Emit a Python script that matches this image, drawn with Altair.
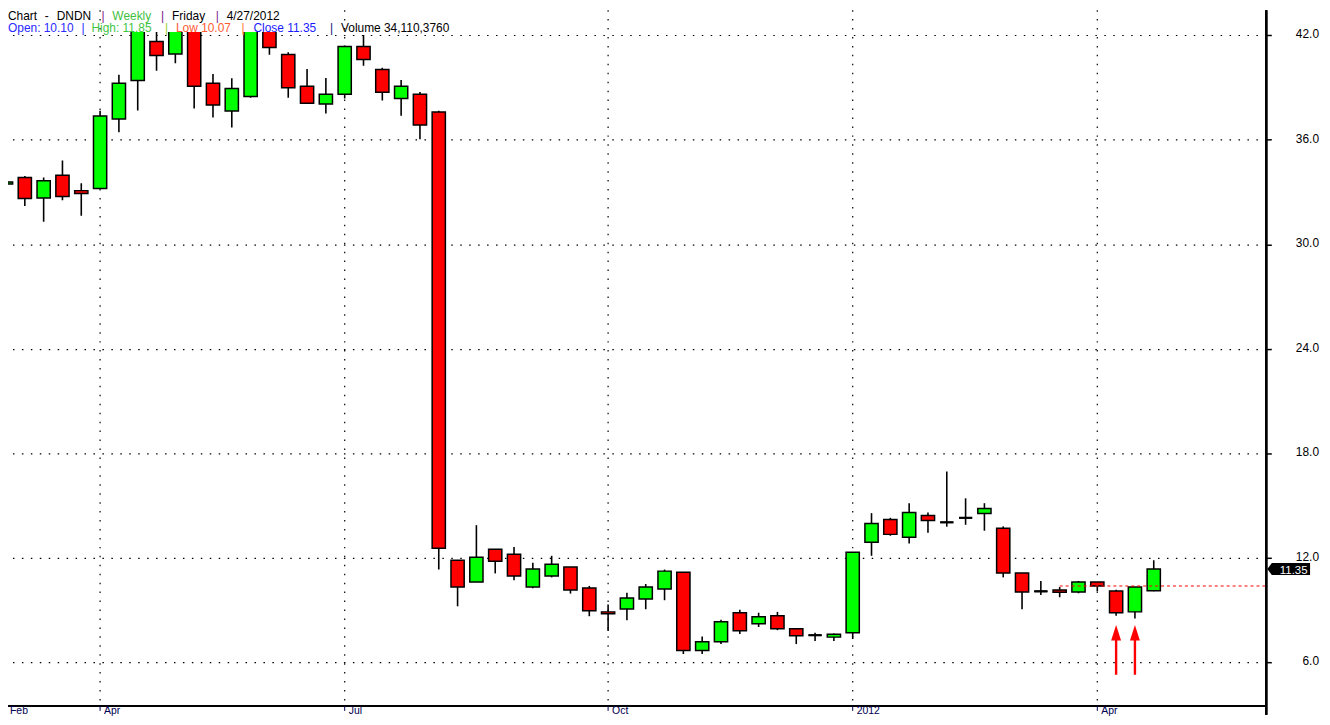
import altair as alt
import pandas as pd

# ---------------- data ----------------
opens = [33.46, 33.84, 32.66, 33.96, 33.08, 33.20, 37.19, 39.41, 41.64, 40.93,
         42.40, 39.24, 37.65, 38.48, 42.80, 40.90, 39.07, 38.05, 38.62, 41.36,
         40.04, 38.37, 38.62, 37.59, 11.86, 10.60, 12.49, 12.20, 10.32, 10.95,
         11.46, 10.26, 8.89, 9.06, 9.63, 10.20, 11.17, 6.67, 7.18, 8.84,
         8.21, 8.67, 7.92, 7.55, 7.44, 7.69, 12.89, 14.20, 13.17, 14.43,
         14.03, 14.29, 14.54, 13.69, 11.12, 10.07, 10.15, 10.03, 10.60, 10.09,
         8.89, 10.10]
highs = [34.00, 33.92, 33.84, 34.81, 33.50, 37.66, 39.74, 43.20, 43.00, 43.10,
         42.90, 39.78, 39.53, 43.30, 43.00, 41.03, 40.06, 39.55, 41.41, 42.02,
         40.13, 39.43, 38.75, 37.66, 11.86, 13.87, 12.49, 12.62, 11.71, 12.11,
         11.46, 10.38, 9.31, 9.99, 10.49, 11.32, 11.17, 7.47, 8.44, 9.01,
         8.84, 8.89, 7.92, 7.69, 7.65, 12.32, 14.56, 14.29, 15.13, 14.60,
         16.95, 15.41, 15.13, 13.80, 11.12, 10.66, 10.32, 10.66, 10.60, 10.16,
         10.32, 11.85]
lows = [31.86, 32.20, 31.29, 32.53, 31.63, 33.20, 36.43, 37.68, 39.96, 40.40,
        37.80, 37.28, 36.71, 38.42, 40.88, 38.42, 38.05, 37.51, 38.37, 40.25,
        38.25, 37.38, 36.03, 11.32, 9.21, 10.60, 11.10, 10.70, 10.24, 10.87,
        9.94, 8.64, 7.79, 8.41, 9.04, 9.56, 6.47, 6.47, 7.04, 7.62,
        8.02, 7.84, 7.04, 7.22, 7.22, 7.33, 12.11, 13.26, 12.81, 13.43,
        13.78, 13.89, 13.55, 10.87, 9.04, 9.86, 9.73, 9.96, 10.07, 8.67,
        8.51, 10.07]
closes = [33.58, 32.63, 33.65, 32.74, 32.91, 37.36, 39.24, 42.60, 40.84, 42.40,
          39.07, 37.99, 38.94, 42.80, 41.30, 38.99, 38.10, 38.62, 41.36, 40.61,
          38.73, 39.07, 36.85, 12.54, 10.32, 12.03, 11.80, 10.95, 11.35, 11.63,
          10.15, 8.95, 8.78, 9.69, 10.32, 11.23, 6.67, 7.18, 8.32, 7.81,
          8.61, 7.92, 7.52, 7.55, 7.60, 12.32, 13.97, 13.34, 14.60, 14.14,
          14.03, 14.29, 14.83, 11.12, 10.03, 10.07, 10.01, 10.60, 10.38, 8.84,
          10.32, 11.35]

tick_index = [0, 5, 18, 32, 45, 58]
tick_labels = ["Feb", "Apr", "Jul", "Oct", "2012", "Apr"]
price_ticks = [6.0, 12.0, 18.0, 24.0, 30.0, 36.0, 42.0]

last_close = 11.35
ref_level = 10.38
ref_start = 56
arrow_index = [59, 60]
arrow_tail = 5.28
arrow_head_base = 7.30
arrow_head_mid = 7.69

header_text = ["Chart", "-", "DNDN", "|", "Weekly", "|", "Friday", "|", "4/27/2012",
               "Open: 10.10", "|", "High: 11.85", "|", "Low 10.07", "|", "Close 11.35", "|",
               "Volume 34,110,3760"]

# ---------------- layout / style ----------------
W, H = 1266, 678
TOP, BOTTOM, RIGHT = 22, 9, 56
header_color = ["#000000", "#000000", "#000000", "#7a1a8a", "#3fbf3f", "#7a1a8a", "#000000",
                "#7a1a8a", "#000000",
                "#2a2aff", "#2a2aff", "#3fc43f", "#9acd32", "#ff5a33", "#ff7a33", "#1a1aff",
                "#1a1a80", "#000000"]
header_px = [8, 45, 57, 102, 113, 162, 173, 217, 228,
             8, 82, 92, 166, 177, 243, 255, 332, 343]
header_line = [0, 0, 0, 0, 0, 0, 0, 0, 0, 1, 1, 1, 1, 1, 1, 1, 1, 1]
line_base = [17.5, 30]

n = len(opens)
half = 0.3513
candles = pd.DataFrame({
    "i": list(range(n)), "open": opens, "high": highs, "low": lows, "close": closes,
})
candles["x0"] = candles["i"] - half
candles["x1"] = candles["i"] + half
candles["dir"] = [
    "up" if c > o else ("down" if c < o else "flat") for o, c in zip(opens, closes)
]

x_scale = alt.Scale(domain=[0.10565, 66.984], nice=False, zero=False)
y_scale = alt.Scale(domain=[3.49, 42.188], nice=False, zero=False)
DOT = [1.5, 7.5]

y_axis = alt.Axis(
    orient="right", values=price_ticks, title=None, labels=False,
    grid=True, gridDash=DOT, gridColor="black", gridWidth=1.2, gridOpacity=1,
    domain=False, ticks=True, tickSize=5, tickColor="black", tickWidth=1.5,
)

def X(field):
    return alt.X(field, type="quantitative", scale=x_scale, axis=None)

def Y(field):
    return alt.Y(field, type="quantitative", scale=y_scale, axis=y_axis)

ticks_df = pd.DataFrame({"i": tick_index, "label": tick_labels})
price_df = pd.DataFrame({"p": price_ticks, "t": [f"{p:.1f}" for p in price_ticks]})

vgrid = alt.Chart(ticks_df).mark_rule(
    color="black", strokeWidth=1.2, strokeDash=DOT
).encode(x=X("i"), y=alt.value(-TOP), y2=alt.value(H))

wicks = alt.Chart(candles).mark_rule(color="black", strokeWidth=1.6, clip=True).encode(
    x=X("i"), y=Y("low"), y2=alt.Y2("high")
)

bodies = alt.Chart(candles).mark_rect(stroke="black", strokeWidth=1.5, clip=True).encode(
    x=X("x0"), x2=alt.X2("x1"), y=Y("open"), y2=alt.Y2("close"),
    fill=alt.Fill("dir:N", scale=alt.Scale(domain=["up", "down", "flat"],
                                            range=["#00ff00", "#ff0000", "#000000"]),
                  legend=None),
)

dojis = alt.Chart(candles).transform_filter("datum.open == datum.close").mark_rule(
    color="black", strokeWidth=2.2, clip=True
).encode(x=X("x0"), x2=alt.X2("x1"), y=Y("open"))

ref_df = pd.DataFrame({"i": [ref_start], "p": [ref_level]})
ref_line = alt.Chart(ref_df).mark_rule(color="#ff0000", strokeWidth=1.1, strokeDash=[3, 3]).encode(
    x=X("i"), x2=alt.value(W), y=Y("p")
)

arrows_df = pd.DataFrame({
    "i": arrow_index,
    "tail": [arrow_tail] * len(arrow_index),
    "base": [arrow_head_base] * len(arrow_index),
    "mid": [arrow_head_mid] * len(arrow_index),
})
shafts = alt.Chart(arrows_df).mark_rule(color="#ff0000", strokeWidth=2.4).encode(
    x=X("i"), y=Y("tail"), y2=alt.Y2("base")
)
heads = alt.Chart(arrows_df).mark_point(
    shape="M0,-1L0.64,1L-0.64,1Z", size=243, filled=True, color="#ff0000", opacity=1, strokeWidth=0
).encode(x=X("i"), y=Y("mid"))

right_line = alt.Chart(ticks_df).mark_rule(color="black", strokeWidth=1.7).encode(
    x=alt.value(W), y=alt.value(-TOP), y2=alt.value(H + BOTTOM)
)
bottom_line = alt.Chart(ticks_df).mark_rule(color="black", strokeWidth=1.7).encode(
    x=alt.value(0), x2=alt.value(W), y=alt.value(H)
)
bottom_ticks = alt.Chart(ticks_df).mark_rule(color="#000050", strokeWidth=1).encode(
    x=X("i"), y=alt.value(H), y2=alt.value(H + 5)
)
bottom_labels = alt.Chart(ticks_df).mark_text(
    align="left", baseline="middle", dx=4, font="Liberation Sans", fontSize=10.5, color="#000050"
).encode(x=X("i"), y=alt.value(H + 5), text="label:N")

price_labels = alt.Chart(price_df).mark_text(
    align="right", baseline="middle", font="Liberation Sans", fontSize=12, color="black", dy=-1
).encode(x=alt.value(W + 53), y=Y("p"), text="t:N")

tag_df = pd.DataFrame({"p": [last_close], "t": [f"{last_close:.2f}"]})
tag_shape = alt.Chart(tag_df).mark_point(
    shape="M-1,0L-0.79,-0.28L1,-0.28L1,0.28L-0.79,0.28Z", size=1849,
    filled=True, color="black", opacity=1, strokeWidth=0, dy=1.3
).encode(x=alt.value(W + 22.5), y=Y("p"))
tag_text = alt.Chart(tag_df).mark_text(
    align="center", baseline="middle", font="Liberation Sans", fontSize=11.5, color="white", dy=1.6
).encode(x=alt.value(W + 27.5), y=Y("p"), text="t:N")

hdr = pd.DataFrame({
    "text": header_text,
    "color": header_color,
    "x": [p - 8 for p in header_px],
    "y": [line_base[l] - 8 - TOP for l in header_line],
})
header = alt.Chart(hdr).mark_text(
    align="left", baseline="alphabetic", font="Liberation Sans", fontSize=12
).encode(
    x=alt.X("x:Q", scale=None, axis=None),
    y=alt.Y("y:Q", scale=None, axis=None),
    text="text:N",
    color=alt.Color("color:N", scale=None, legend=None),
)

chart = alt.layer(
    vgrid, wicks, bodies, dojis, ref_line, shafts, heads,
    right_line, bottom_line, bottom_ticks, bottom_labels, price_labels,
    tag_shape, tag_text, header
).properties(
    width=W, height=H,
    padding={"left": 0, "top": TOP, "right": RIGHT, "bottom": BOTTOM},
    autosize=alt.AutoSizeParams(type="none"),
    background="white",
).configure_view(strokeWidth=0)

chart.save("out.html", embed_options={"renderer": "svg", "actions": False})
